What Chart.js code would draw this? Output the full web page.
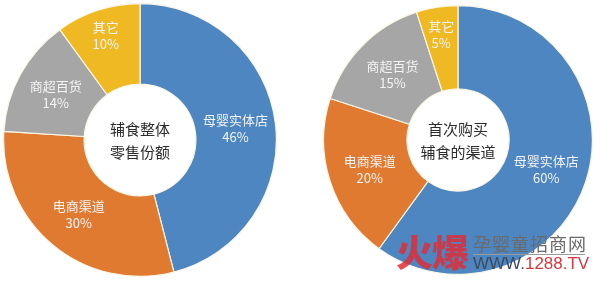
<!DOCTYPE html>
<html>
<head>
<meta charset="utf-8">
<script src="https://cdn.jsdelivr.net/npm/chart.js@4/dist/chart.umd.min.js"></script>
<style>
  html, body { margin:0; padding:0; background:#ffffff; }
  #wrap { position:relative; width:600px; height:282px; overflow:hidden; background:#fff; }
  canvas { position:absolute; }
  .wm { position:absolute; font-family:"Noto Sans CJK SC","Noto Sans",sans-serif; white-space:nowrap; }
</style>
</head>
<body>
<div id="wrap">
  <canvas id="c1" width="274" height="274" style="left:3px;top:3px"></canvas>
  <canvas id="c2" width="270" height="270" style="left:323px;top:5px"></canvas>
  <div class="wm" style="left:396px;top:228px;font-size:37px;font-weight:900;color:rgba(222,46,56,0.85);letter-spacing:-1px;line-height:46px;">火爆</div>
  <div class="wm" style="left:473px;top:231px;font-size:18px;color:#6a6a6a;letter-spacing:1px;line-height:24px;">孕婴童招商网</div>
  <div class="wm" style="left:473px;top:254px;width:112px;border-top:1px solid #999;"></div>
  <div class="wm" style="left:473px;top:254px;font-family:'Liberation Sans',Arial,sans-serif;font-size:17px;line-height:20px;color:#3e4a5a;">WWW.<span style="color:#d9363e">1288.TV</span></div>
</div>
<script>
const categories = ['母婴实体店', '电商渠道', '商超百货', '其它'];
const retailShare = [46, 30, 14, 10];
const firstPurchase = [60, 20, 15, 5];
const centerTitle1 = ['辅食整体', '零售份额'];
const centerTitle2 = ['首次购买', '辅食的渠道'];
const colors = ['#4d86c1', '#e17a31', '#a6a6a6', '#efb923'];

const labelPlugin = {
  id: 'sliceLabels',
  afterDatasetsDraw(chart, args, opts) {
    const ctx = chart.ctx;
    const meta = chart.getDatasetMeta(0);
    const data = chart.data.datasets[0].data;
    ctx.save();
    ctx.textAlign = 'center';
    ctx.textBaseline = 'middle';
    ctx.font = '13px "Noto Sans CJK SC", "Noto Sans", sans-serif';
    ctx.fillStyle = '#f4f4f4';
    let cx = 0, cy = 0;
    meta.data.forEach((arc, i) => {
      const p = arc.getProps(['x','y','startAngle','endAngle','innerRadius','outerRadius'], true);
      cx = p.x; cy = p.y;
      const a = (p.startAngle + p.endAngle) / 2;
      const frac = data[i] <= 10 ? 0.68 : 0.5;
      const r = p.innerRadius + frac * (p.outerRadius - p.innerRadius);
      const x = p.x + Math.cos(a) * r;
      const y = p.y + Math.sin(a) * r;
      ctx.fillText(chart.data.labels[i], x, y - 8);
      ctx.fillText(data[i] + '%', x, y + 9);
    });
    const lines = opts.center || [];
    ctx.fillStyle = '#2b2b2b';
    ctx.font = '15px "Noto Sans CJK SC", "Noto Sans", sans-serif';
    ctx.fillText(lines[0], cx, cy - 11);
    ctx.fillText(lines[1], cx, cy + 12);
    ctx.restore();
  }
};

function makeChart(id, values, center, cutout) {
  return new Chart(document.getElementById(id), {
    type: 'doughnut',
    data: {
      labels: categories,
      datasets: [{
        data: values,
        backgroundColor: colors,
        borderColor: '#fbf6e6',
        borderWidth: 1.2,
        hoverOffset: 0
      }]
    },
    options: {
      responsive: false,
      animation: false,
      cutout: cutout,
      layout: { padding: 0 },
      plugins: {
        legend: { display: false },
        tooltip: { enabled: false },
        sliceLabels: { center: center }
      },
      events: []
    },
    plugins: [labelPlugin]
  });
}

makeChart('c1', retailShare, centerTitle1, '41%');
makeChart('c2', firstPurchase, centerTitle2, '38%');
</script>
</body>
</html>
